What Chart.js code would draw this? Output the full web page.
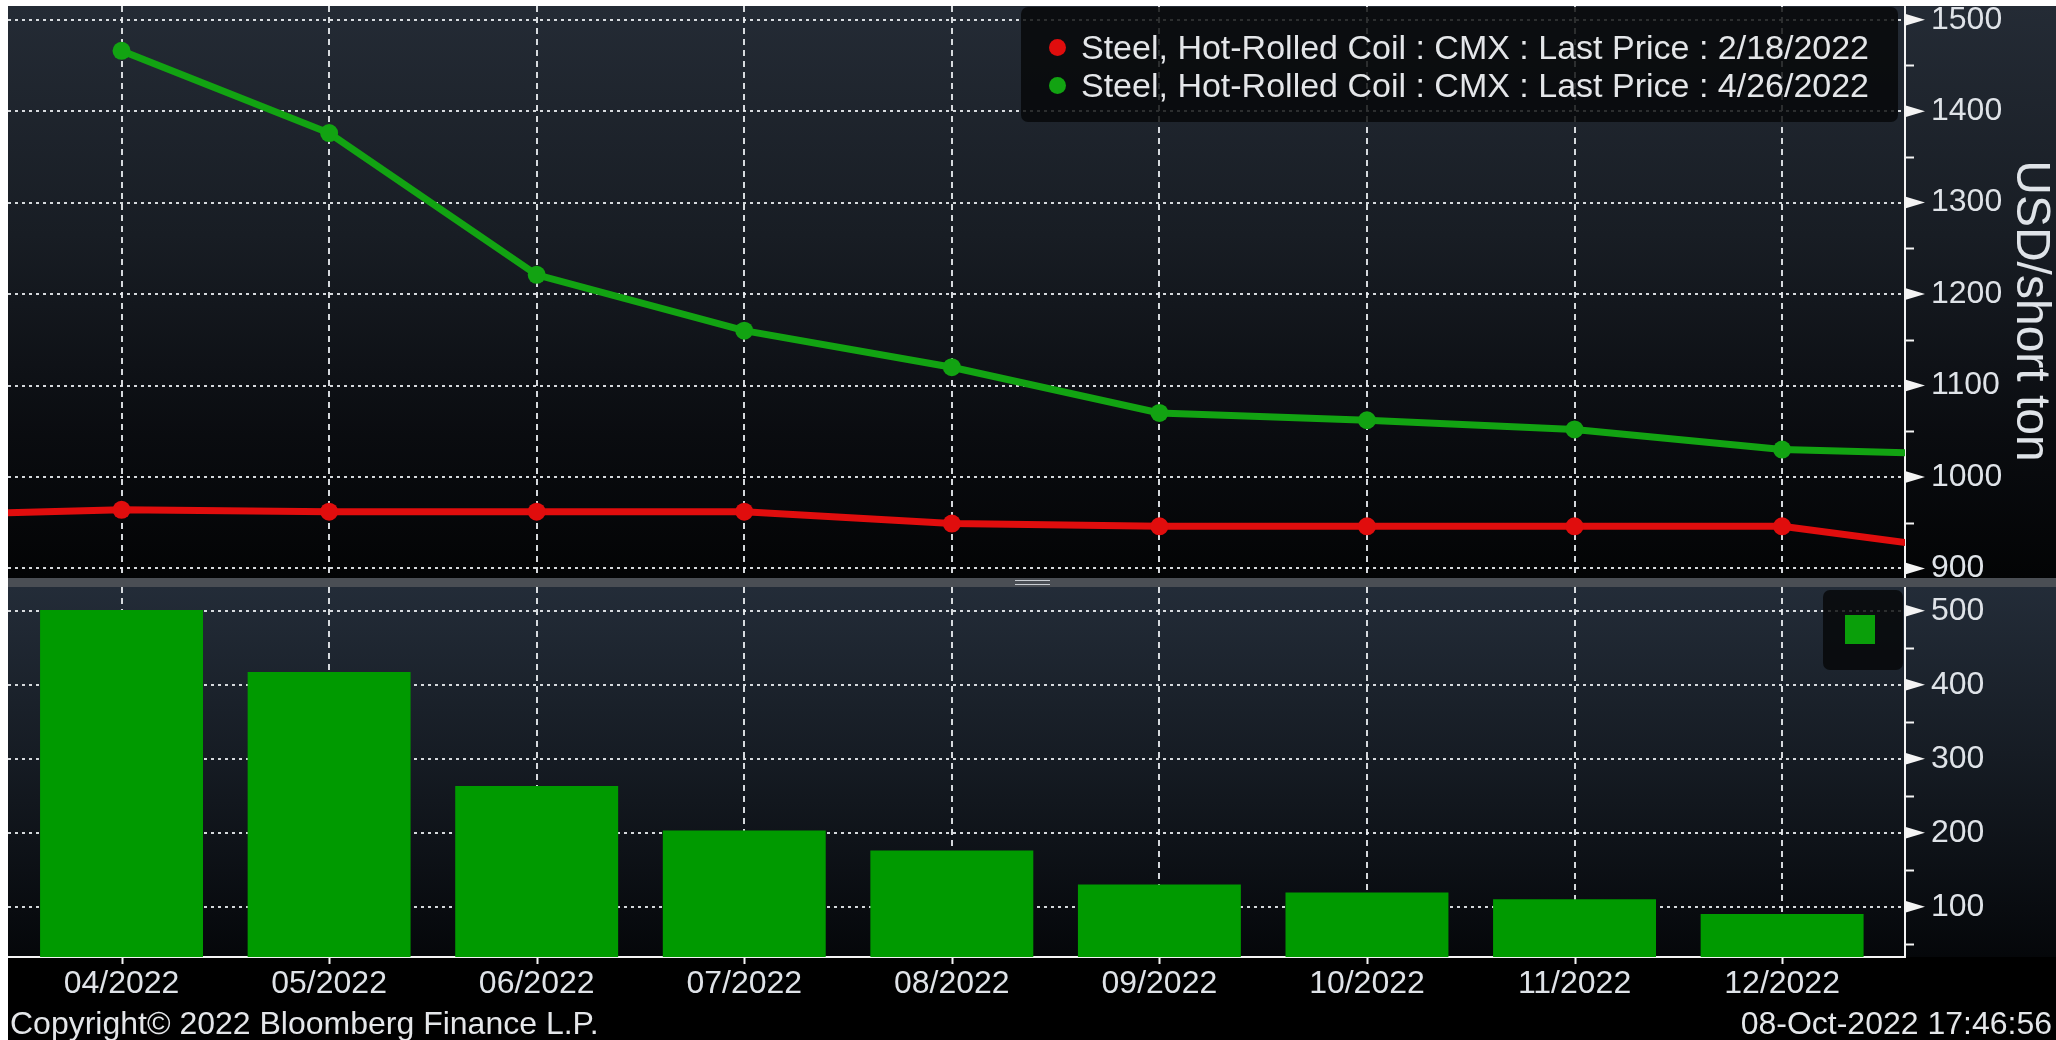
<!DOCTYPE html>
<html>
<head>
<meta charset="utf-8">
<script src="https://cdn.jsdelivr.net/npm/chart.js@4.4.1/dist/chart.umd.min.js"></script>
<style>
  html, body { margin: 0; padding: 0; width: 2056px; height: 1040px; overflow: hidden; background: #fff; }
  body { font-family: 'Liberation Sans', Arial, sans-serif; color: #dfe3e8; }
  #frame { position: absolute; left: 8px; top: 6px; width: 2048px; height: 1034px; background: #000; }
  #topPanel { position: absolute; left: 0; top: 0; width: 2048px; height: 572px;
    background: linear-gradient(to bottom, #242b35 0%, #181d24 40%, #0a0c10 75%, #030405 100%); }
  #sep { position: absolute; left: 0; top: 572px; width: 2048px; height: 9px; background: #4a4e54; }
  #grip { position: absolute; left: 1007px; top: 2px; width: 35px; height: 5px;
    border-top: 1px solid #c9cdd2; border-bottom: 1px solid #c9cdd2; box-sizing: border-box; }
  #bottomPanel { position: absolute; left: 0; top: 581px; width: 2048px; height: 370px;
    background: linear-gradient(to bottom, #232c38 0%, #161c24 45%, #05070a 100%); }
  canvas { position: absolute; left: 0; }
  #priceChart { top: 0; }
  #spreadChart { top: 581px; }
  .legend { position: absolute; background: rgba(6, 7, 9, 0.82); border-radius: 7px; }
  #legendTop { left: 1013px; top: 1px; width: 877px; height: 115px; }
  .row { position: absolute; left: 0; height: 38px; line-height: 38px; font-size: 34px; white-space: nowrap; color: #e4e6e9; }
  .dot { position: absolute; left: 28px; top: 11px; width: 17px; height: 17px; border-radius: 50%; }
  .row span.txt { position: absolute; left: 60px; top: 0; }
  #legendBottom { left: 1815px; top: 584px; width: 80px; height: 80px; }
  #legendBottom .sq { position: absolute; left: 22px; top: 25px; width: 30px; height: 29px; background: #0a9f0a; }
  .foot { position: absolute; top: 998px; height: 38px; line-height: 38px; font-size: 32px; color: #e4e6e9; white-space: nowrap; }
</style>
</head>
<body>
<div id="frame">
  <div id="topPanel"></div>
  <div id="sep"><div id="grip"></div></div>
  <div id="bottomPanel"></div>
  <canvas id="priceChart" width="2048" height="572"></canvas>
  <canvas id="spreadChart" width="2048" height="453"></canvas>
  <div class="legend" id="legendTop">
    <div class="row" style="top:21px"><div class="dot" style="background:#e00d0d"></div><span class="txt">Steel, Hot-Rolled Coil : CMX : Last Price : 2/18/2022</span></div>
    <div class="row" style="top:59px"><div class="dot" style="background:#12a312"></div><span class="txt">Steel, Hot-Rolled Coil : CMX : Last Price : 4/26/2022</span></div>
  </div>
  <div class="legend" id="legendBottom"><div class="sq"></div></div>
  <div class="foot" style="left:2px">Copyright© 2022 Bloomberg Finance L.P.</div>
  <div class="foot" style="right:4px">08-Oct-2022 17:46:56</div>
</div>
<script>
// contract months (first and last are only partly visible at the edges)
const months = ['03/2022', '04/2022', '05/2022', '06/2022', '07/2022', '08/2022',
                '09/2022', '10/2022', '11/2022', '12/2022', '01/2023'];
// futures curve as of 2/18/2022 (red)
const curveFeb18 = [958, 964, 962, 962, 962, 949, 946, 946, 946, 946, 916];
// futures curve as of 4/26/2022 (green)
const curveApr26 = [null, 1466, 1376, 1221, 1160, 1120, 1070, 1062, 1052, 1030, 1024];
// lower panel bars
const spread = [null, 501, 417, 263, 203, 176, 130, 119, 110, 90, null];

const priceTicks = [900, 1000, 1100, 1200, 1300, 1400, 1500];
const spreadTicks = [100, 200, 300, 400, 500];
const shownMonths = [1, 2, 3, 4, 5, 6, 7, 8, 9];

const FONT = "'Liberation Sans', Arial, sans-serif";
const TXT = '#dfe3e8';
const GRID = 'rgba(235,238,242,0.9)';

function pts(arr) {
  return arr.map((v, i) => ({ x: i, y: v }));
}

// arrow ticks, minor ticks and side title, Bloomberg style
const axisMarks = {
  id: 'axisMarks',
  afterDraw(chart, args, opts) {
    const ctx = chart.ctx;
    const ys = chart.scales.y;
    const ax = ys.left;
    ctx.save();
    ctx.fillStyle = '#f4f4f4';
    ctx.strokeStyle = '#f4f4f4';
    ctx.lineWidth = 2;
    ys.ticks.forEach(t => {
      const py = ys.getPixelForValue(t.value);
      ctx.beginPath();
      ctx.moveTo(ax, py - 6);
      ctx.lineTo(ax + 20, py);
      ctx.lineTo(ax, py + 6);
      ctx.closePath();
      ctx.fill();
    });
    for (let v = ys.ticks[0].value - opts.step / 2; v < ys.max; v += opts.step) {
      if (v <= ys.min) continue;
      const py = Math.round(ys.getPixelForValue(v)) + 0.5;
      ctx.beginPath();
      ctx.moveTo(ax, py);
      ctx.lineTo(ax + 9, py);
      ctx.stroke();
    }
    if (opts.xTicks) {
      const xs = chart.scales.x;
      xs.ticks.forEach(t => {
        const px = Math.round(xs.getPixelForValue(t.value)) + 0.5;
        ctx.beginPath();
        ctx.moveTo(px, xs.top);
        ctx.lineTo(px, xs.top + 7);
        ctx.stroke();
      });
    }
    if (opts.title) {
      ctx.translate(2022, 305);
      ctx.rotate(Math.PI / 2);
      ctx.fillStyle = TXT;
      ctx.font = '48px ' + FONT;
      ctx.textAlign = 'center';
      ctx.textBaseline = 'middle';
      ctx.fillText(opts.title, 0, 0);
    }
    ctx.restore();
  }
};

function xScale(showLabels) {
  return {
    type: 'linear',
    min: 0.453,
    max: 9.592,
    offset: false,
    afterBuildTicks: s => { s.ticks = shownMonths.map(v => ({ value: v })); },
    afterFit: s => { s.height = showLabels ? 83 : 0; s.paddingLeft = 0; s.paddingRight = 0; },
    grid: { color: GRID, lineWidth: 2, drawTicks: false, offset: false },
    border: { display: showLabels, color: '#f4f4f4', width: 2, dash: [6, 5] },
    ticks: {
      display: showLabels,
      padding: 8,
      color: TXT,
      maxRotation: 0,
      autoSkip: false,
      font: { family: FONT, size: 32 },
      callback: v => months[v]
    }
  };
}

function yScale(min, max, tickList) {
  return {
    position: 'right',
    min: min,
    max: max,
    afterBuildTicks: s => { s.ticks = tickList.map(v => ({ value: v })); },
    afterFit: s => { s.width = 151; s.paddingTop = 0; s.paddingBottom = 0; },
    grid: { color: GRID, lineWidth: 2, drawTicks: false },
    border: { display: true, color: '#f4f4f4', width: 2, dash: [3, 4] },
    ticks: {
      padding: 26,
      color: TXT,
      font: { family: FONT, size: 32 },
      callback: v => String(v)
    }
  };
}

Chart.defaults.devicePixelRatio = 1;

new Chart(document.getElementById('priceChart'), {
  type: 'line',
  data: {
    datasets: [
      {
        label: 'Steel, Hot-Rolled Coil : CMX : Last Price : 2/18/2022',
        data: pts(curveFeb18),
        borderColor: '#e00d0d',
        backgroundColor: '#e00d0d',
        borderWidth: 7,
        pointRadius: 9,
        pointBorderWidth: 0,
        clip: 0
      },
      {
        label: 'Steel, Hot-Rolled Coil : CMX : Last Price : 4/26/2022',
        data: pts(curveApr26),
        borderColor: '#12a312',
        backgroundColor: '#12a312',
        borderWidth: 7,
        pointRadius: 9,
        pointBorderWidth: 0,
        clip: 0
      }
    ]
  },
  options: {
    responsive: false,
    animation: false,
    layout: { padding: 0, autoPadding: false },
    scales: {
      x: xScale(false),
      y: yScale(889.5, 1515, priceTicks)
    },
    plugins: {
      legend: { display: false },
      tooltip: { enabled: false },
      axisMarks: { step: 100, title: 'USD/short ton', xTicks: false }
    }
  },
  plugins: [axisMarks]
});

new Chart(document.getElementById('spreadChart'), {
  type: 'bar',
  data: {
    datasets: [{
      label: 'Spread',
      data: pts(spread),
      backgroundColor: '#009a00',
      borderWidth: 0,
      categoryPercentage: 1,
      barPercentage: 0.785
    }]
  },
  options: {
    responsive: false,
    animation: false,
    layout: { padding: 0, autoPadding: false },
    scales: {
      x: xScale(true),
      y: yScale(32, 532, spreadTicks)
    },
    plugins: {
      legend: { display: false },
      tooltip: { enabled: false },
      axisMarks: { step: 100, title: null, xTicks: true }
    }
  },
  plugins: [axisMarks]
});
</script>
</body>
</html>
